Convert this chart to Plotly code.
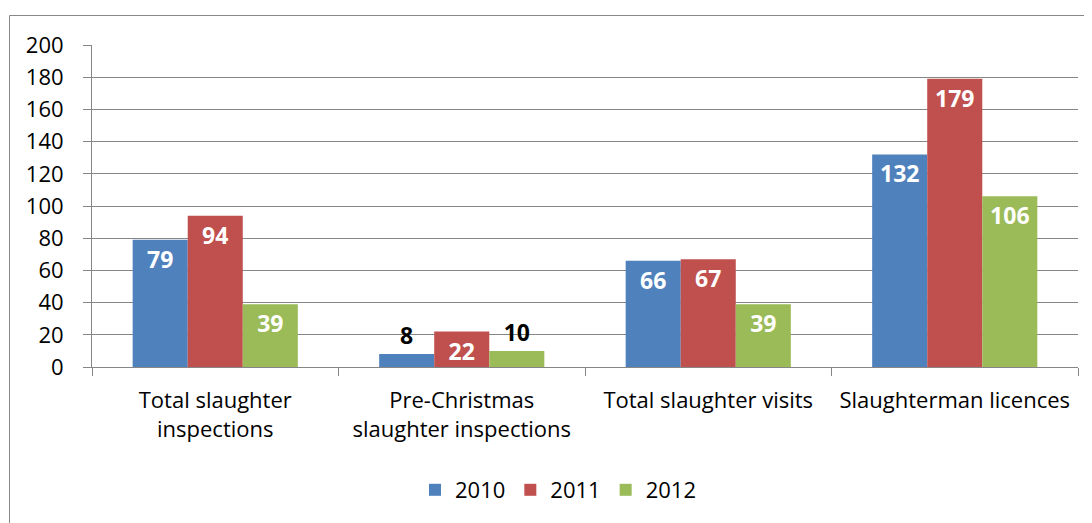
import plotly.graph_objects as go

categories = ["Total slaughter<br>inspections", "Pre-Christmas<br>slaughter inspections",
              "Total slaughter visits", "Slaughterman licences"]
years = ["2010", "2011", "2012"]
values_2010 = [79, 8, 66, 132]
values_2011 = [94, 22, 67, 179]
values_2012 = [39, 10, 39, 106]
colors = ["#4F81BD", "#C0504D", "#9BBB59"]
y_ticks = [0, 20, 40, 60, 80, 100, 120, 140, 160, 180, 200]

FONT = "Open Sans"
fig = go.Figure()
for name, vals, col in zip(years, [values_2010, values_2011, values_2012], colors):
    pos = ["outside" if v < 15 else "inside" for v in vals]
    tcol = ["black" if v < 15 else "white" for v in vals]
    fig.add_trace(go.Bar(
        x=categories, y=vals, name=name, marker=dict(color=col, line=dict(width=0)),
        text=[str(v) for v in vals], textposition=pos, insidetextanchor="end", textangle=0,
        textfont=dict(family=FONT, size=23, color=tcol, weight="bold"),
        constraintext="none", cliponaxis=False,
    ))

# page has an 8px body margin: figure coordinates = page coordinates - 8
OFF = 8
W, H = 1092, 523
L, R, T, B = 92 - OFF, W - (1078 - OFF), 45 - OFF, H - (367 - OFF)
pw, ph = W - L - R, H - T - B

def px_x(x):
    return (x - OFF - L) / pw

def px_y(y):
    return (H - B - (y - OFF)) / ph

fig.add_shape(type="rect", xref="paper", yref="paper",
              x0=px_x(9.5), x1=px_x(1110), y0=px_y(540), y1=px_y(15.5),
              line=dict(color="#888888", width=1), fillcolor="rgba(0,0,0,0)", layer="below")

FS = 22
fig.update_layout(
    width=W, height=H, margin=dict(l=L, r=R, t=T, b=B, autoexpand=False),
    paper_bgcolor="white", plot_bgcolor="white",
    barmode="group", bargap=0.33, bargroupgap=0,
    font=dict(family=FONT, size=FS, color="black"),
    showlegend=True,
    legend=dict(orientation="h", x=px_x(558), xanchor="center", y=px_y(490), yanchor="middle",
                font=dict(family=FONT, size=FS), itemclick=False, bgcolor="rgba(0,0,0,0)"),
    xaxis=dict(showgrid=False, showline=True, linecolor="#868686", linewidth=1,
               ticks="outside", tickson="boundaries", ticklen=8, tickcolor="#868686",
               tickangle=0, automargin=False,
               tickfont=dict(family=FONT, size=FS), ticklabelstandoff=14),
    yaxis=dict(range=[0, 200], tickvals=y_ticks, showgrid=True, gridcolor="#868686", gridwidth=1,
               showline=True, linecolor="#868686", linewidth=1, zeroline=False,
               ticks="outside", ticklen=8, tickcolor="#868686", automargin=False,
               tickfont=dict(family=FONT, size=FS), ticklabelstandoff=15),
)

fig.write_html("out.html")
